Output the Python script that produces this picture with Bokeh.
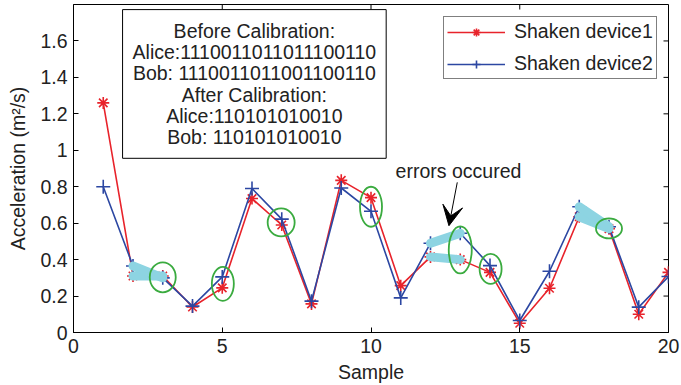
from bokeh.plotting import figure
from bokeh.models import (Range1d, FixedTicker, NumeralTickFormatter,
                          Legend, LegendItem, Label, Arrow, VeeHead, ColumnDataSource)
from bokeh.embed import file_html
from bokeh.resources import INLINE

# ---------------- data ----------------
samples = list(range(1, 21))
device1 = [1.26, 0.31, 0.31, 0.14, 0.245, 0.735, 0.59, 0.157, 0.835, 0.74,
           0.257, 0.415, 0.40, 0.33, 0.051, 0.243, 0.635, 0.57, 0.10, 0.33]
device2 = [0.80, 0.365, 0.30, 0.145, 0.305, 0.79, 0.622, 0.172, 0.793, 0.665,
           0.19, 0.49, 0.545, 0.367, 0.066, 0.336, 0.69, 0.58, 0.139, 0.307]
series_names = ["Shaken device1", "Shaken device2"]

# error segments start at these sample numbers (segment to next sample)
error_starts = [2, 12, 17]
# circled points (sample, centre value, width px, height px)
circle_x = [3.0, 5.02, 6.98, 10.0, 13.0, 14.02, 18.0]
circle_y = [0.303, 0.267, 0.604, 0.69, 0.453, 0.349, 0.571]
circle_w = [26, 22, 27, 22, 23, 22, 26]
circle_h = [30, 34, 28, 40, 47, 30, 20]

x_ticks = [0, 5, 10, 15, 20]
y_ticks = [0, 0.2, 0.4, 0.6, 0.8, 1.0, 1.2, 1.4, 1.6]
x_max = 20
y_max = 1.8

box_text = ("Before Calibration:\n"
            "Alice:1110011011011100110\n"
            "Bob: 1110011011001100110\n"
            "After Calibration:\n"
            "Alice:110101010010\n"
            "Bob: 110101010010")
annot_text = "errors occured"
x_label = "Sample"
y_label = "Acceleration (m\u00b2/s)"

# ---------------- style ----------------
FONT = "Liberation Sans"
FS = "19.5px"
RED = "#e8232b"
BLUE = "#2c47a2"
CYAN = "#8dd4e2"
GREEN = "#3aab3f"
TXT = "#222222"

W, H = 681, 385
BL, BR, BT, BB = 73, 13, 4, 53
TICK = 5  # px, inward

p = figure(width=W, height=H, output_backend="svg", toolbar_location=None,
           x_range=Range1d(0, x_max), y_range=Range1d(0, y_max),
           min_border_left=BL, min_border_right=BR, min_border_top=BT, min_border_bottom=BB)
p.grid.visible = False
p.outline_line_color = "black"
p.outline_line_width = 1
p.background_fill_color = "white"
p.border_fill_color = "white"

for ax in (p.xaxis[0], p.yaxis[0]):
    ax.major_tick_in = TICK
    ax.major_tick_out = 0
    ax.minor_tick_line_color = None
    ax.axis_line_color = "black"
    ax.major_label_text_font = FONT
    ax.major_label_text_font_size = FS
    ax.major_label_text_color = TXT
    ax.axis_label_text_font = FONT
    ax.axis_label_text_font_size = FS
    ax.axis_label_text_font_style = "normal"
    ax.axis_label_text_color = TXT

p.xaxis[0].ticker = FixedTicker(ticks=x_ticks)
p.yaxis[0].ticker = FixedTicker(ticks=y_ticks)
p.xaxis[0].formatter = NumeralTickFormatter(format="0")
p.yaxis[0].formatter = NumeralTickFormatter(format="0.[0]")
p.xaxis[0].axis_label = x_label
p.yaxis[0].axis_label = y_label
p.xaxis[0].major_label_standoff = 6
p.xaxis[0].axis_label_standoff = 5
p.yaxis[0].major_label_standoff = 6
p.yaxis[0].axis_label_standoff = 8

# mirrored ticks on top & right edges (tick length converted from px to data units)
dx = TICK * x_max / (W - BL - BR)
dy = TICK * y_max / (H - BT - BB)
p.segment(x0=x_ticks, y0=[y_max] * len(x_ticks), x1=x_ticks, y1=[y_max - dy] * len(x_ticks),
          line_color="black", line_width=1)
p.segment(x0=[x_max] * len(y_ticks), y0=y_ticks, x1=[x_max - dx] * len(y_ticks), y1=y_ticks,
          line_color="black", line_width=1)

# series
src = ColumnDataSource(dict(x=samples, d1=device1, d2=device2))
l1 = p.line("x", "d1", source=src, color=RED, line_width=1.6)
m1 = p.scatter("x", "d1", source=src, marker="asterisk", size=12, line_color=RED, line_width=1.6)
l2 = p.line("x", "d2", source=src, color=BLUE, line_width=1.6)
m2 = p.scatter("x", "d2", source=src, marker="cross", size=14, line_color=BLUE, line_width=1.6)

# error segments (cyan highlight)
idx = [samples.index(s) for s in error_starts]
seg_x0 = [samples[i] for i in idx] * 2
seg_x1 = [samples[i + 1] for i in idx] * 2
seg_y0 = [device1[i] for i in idx] + [device2[i] for i in idx]
seg_y1 = [device1[i + 1] for i in idx] + [device2[i + 1] for i in idx]
p.segment(seg_x0, seg_y0, seg_x1, seg_y1, line_color=CYAN, line_width=9, line_cap="round")

# circles
p.ellipse(x=circle_x, y=circle_y, width=circle_w, height=circle_h,
          width_units="screen", height_units="screen",
          fill_color=None, line_color=GREEN, line_width=1.8)

# annotation arrow
p.add_layout(Arrow(x_start=12.90, y_start=0.824, x_end=12.62, y_end=0.586,
                   line_color="black", line_width=1,
                   end=VeeHead(size=20, fill_color="black", line_color="black")))
p.add_layout(Label(x=12.94, y=0.887, text=annot_text, text_align="center",
                   text_baseline="middle", text_font=FONT, text_font_size=FS,
                   text_color=TXT))

# text box
p.add_layout(Label(x=6.08, y=1.364, text=box_text, text_align="center",
                   text_baseline="middle", text_font=FONT, text_font_size=FS,
                   text_color=TXT, text_line_height=0.97,
                   border_line_color="black", border_line_width=1,
                   background_fill_color="white", padding=10))

# legend
legend = Legend(items=[LegendItem(label=series_names[0], renderers=[l1, m1]),
                       LegendItem(label=series_names[1], renderers=[l2, m2])],
                location=(370, 253), orientation="vertical",
                glyph_width=58, glyph_height=20, label_height=20, label_width=136,
                label_standoff=9, spacing=9, padding=3, margin=0,
                label_text_font=FONT, label_text_font_size=FS, label_text_color=TXT,
                border_line_color="black", border_line_width=1,
                background_fill_color="white", background_fill_alpha=1)
p.add_layout(legend)

open("out.html", "w").write(file_html(p, INLINE))
